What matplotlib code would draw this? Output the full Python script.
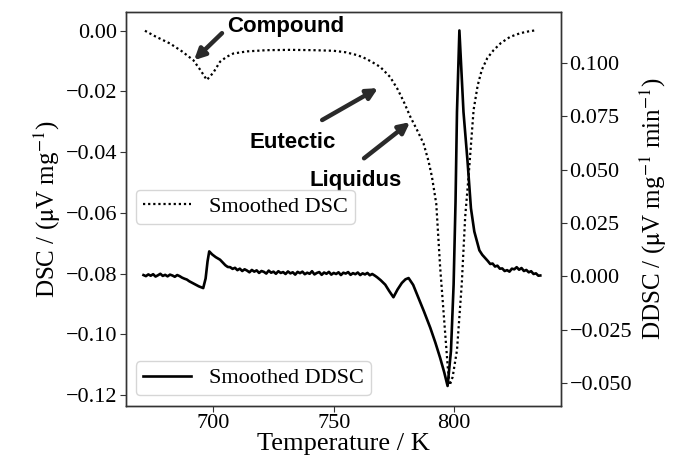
import numpy as np
import matplotlib.pyplot as plt

plt.rcParams['font.family'] = ['Liberation Serif', 'DejaVu Serif']
plt.rcParams['mathtext.fontset'] = 'stix'

# smoothed DSC signal (left axis)
dsc_T = [671.6, 676.0, 682.0, 687.0, 691.7, 694.5, 697.3, 700.0, 702.8, 705.5,
         708.3, 714.0, 722.2, 732.0, 741.5, 750.0, 755.0, 759.6, 762.3, 765.5,
         769.3, 773.4, 776.5, 779.0, 781.8, 784.5, 787.3, 789.4, 790.8, 792.6,
         794.2, 796.3, 797.4, 798.2, 799.4, 801.2, 803.2, 804.6, 806.0, 808.1,
         809.8, 811.5, 813.8, 816.4, 819.5, 823.3, 827.5, 831.0, 834.4]
dsc = [0.0000, -0.0019, -0.0042, -0.0068, -0.0097, -0.0128, -0.0162, -0.0138, -0.0102, -0.0086,
       -0.0075, -0.0068, -0.0064, -0.0063, -0.0064, -0.0066, -0.0071, -0.0080, -0.0088, -0.0101,
       -0.0119, -0.0152, -0.0192, -0.0232, -0.0283, -0.0325, -0.0371, -0.0430, -0.0481, -0.0570,
       -0.0778, -0.0997, -0.1110, -0.1167, -0.1140, -0.1052, -0.0832, -0.0613, -0.0481, -0.0261,
       -0.0180, -0.0129, -0.0090, -0.0064, -0.0040, -0.0020, -0.0008, -0.0002, 0.0002]

# smoothed DDSC signal (right axis)
ddsc_T = [671, 672, 673, 674, 675, 676, 677, 678, 679, 680,
          681, 682, 683, 684, 685, 686, 687, 688, 689, 690,
          692, 694, 695.8, 696.8, 697.6, 698.3, 699.5, 701, 702.8, 704,
          705, 706, 707, 708, 709, 710, 711, 712, 713, 714,
          715, 716, 717, 718, 719, 720, 721, 722, 723, 724,
          725, 726, 727, 728, 729, 730, 731, 732, 733, 734,
          735, 736, 737, 738, 739, 740, 741, 742, 743, 744,
          745, 746, 747, 748, 749, 750, 751, 752, 753, 754,
          755, 756, 757, 758, 759, 760, 761, 762, 763, 764,
          765, 766, 767,
          768, 769.5, 771.4, 773, 774.8, 776.5, 778.3, 779.8, 781.1, 783,
          785.2, 787.5, 790.1, 792.2, 794.2, 795.9, 797.3,
          798.7, 799.8, 800.6, 801.2, 802.2, 803.9, 805.6, 807.0, 807.4, 808.4,
          809.5, 810.5, 811.7, 812.9,
          814, 815, 816, 817, 818, 819, 820, 821, 822, 823,
          824, 825, 826, 827, 828, 829, 830, 831, 832, 833,
          834, 835, 835.8]
ddsc = [0.0006, 0.0001, 0.0009, 0.0003, 0.0010, -0.0001, 0.0005, 0.0012, 0.0002, 0.0007,
        0.0000, 0.0008, 0.0004, -0.0002, 0.0006, 0.0001, -0.0006, -0.0011, -0.0015, -0.0023,
        -0.0035, -0.0047, -0.0055, -0.0010, 0.0070, 0.0117, 0.0103, 0.0090, 0.0078, 0.0064,
        0.0052, 0.0044, 0.0043, 0.0035, 0.0040, 0.0029, 0.0036, 0.0025, 0.0033, 0.0027,
        0.0019, 0.0030, 0.0022, 0.0028, 0.0016, 0.0025, 0.0021, 0.0013, 0.0027, 0.0017,
        0.0022, 0.0012, 0.0024, 0.0016, 0.0020, 0.0011, 0.0023, 0.0014, 0.0019, 0.0008,
        0.0021, 0.0015, 0.0022, 0.0010, 0.0017, 0.0012, 0.0024, 0.0009, 0.0016, 0.0020,
        0.0007, 0.0018, 0.0012, 0.0021, 0.0008, 0.0016, 0.0011, 0.0019, 0.0006, 0.0017,
        0.0013, 0.0020, 0.0007, 0.0015, 0.0010, 0.0018, 0.0006, 0.0014, 0.0009, 0.0016,
        0.0005, 0.0011, 0.0004,
        -0.0004, -0.0018, -0.0039, -0.0068, -0.0098, -0.0062, -0.0031, -0.0014, -0.0008, -0.0040,
        -0.0101, -0.0165, -0.0241, -0.0310, -0.0382, -0.0450, -0.0514,
        -0.0350, -0.0039, 0.0350, 0.0771, 0.1153, 0.0771, 0.0537, 0.0319, 0.0288, 0.0210,
        0.0164, 0.0122, 0.0101, 0.0086,
        0.0072, 0.0058, 0.0060, 0.0046, 0.0050, 0.0036, 0.0037, 0.0025, 0.0029, 0.0022,
        0.0036, 0.0033, 0.0043, 0.0031, 0.0039, 0.0025, 0.0030, 0.0019, 0.0024, 0.0011,
        0.0014, 0.0003, 0.0004]

xticks = [700, 750, 800]
yticks_dsc = [0.00, -0.02, -0.04, -0.06, -0.08, -0.10, -0.12]
yticks_ddsc = [0.100, 0.075, 0.050, 0.025, 0.000, -0.025, -0.050]

fig = plt.figure(figsize=(6.77, 4.58), dpi=100)
ax1 = fig.add_axes([0.186, 0.114, 0.643, 0.86])
ax2 = ax1.twinx()

l1, = ax1.plot(dsc_T, dsc, color='black', lw=1.6, dashes=(1, 1.3), label='Smoothed DSC')
l2, = ax2.plot(ddsc_T, ddsc, ls='-', color='black', lw=1.9, label='Smoothed DDSC')

ax1.set_xlim(663.7, 844.5)
ax1.set_ylim(-0.1235, 0.0062)
ax2.set_ylim(-0.0607, 0.124)
ax1.set_xticks(xticks)
ax1.set_yticks(yticks_dsc)
ax1.set_yticklabels([('%.2f' % abs(v)) if v == 0 else ('%.2f' % v).replace('-', '\u2212')
                     for v in yticks_dsc])
ax2.set_yticks(yticks_ddsc)
ax2.set_yticklabels([('%.3f' % abs(v)) if v == 0 else ('%.3f' % v).replace('-', '\u2212')
                     for v in yticks_ddsc])
for a in (ax1, ax2):
    a.tick_params(labelsize=16, direction='out', length=4, width=0.8, color='#333333', pad=2)
    for s in a.spines.values():
        s.set_color('#333333')
        s.set_linewidth(1.0)

ax1.set_xlabel('Temperature / K', fontsize=19, labelpad=0)
ax1.set_ylabel(r'DSC / ($\mathrm{\mu}$V mg$^{-1}$)', fontsize=18, labelpad=2)
ax2.set_ylabel(r'DDSC / ($\mathrm{\mu}$V mg$^{-1}$ min$^{-1}$)', fontsize=18, labelpad=4)

leg1 = ax1.legend(handles=[l1], loc='upper left', bbox_to_anchor=(0.023, 0.548),
                  borderaxespad=0, fontsize=16, edgecolor='#cccccc', handlelength=2.2,
                  borderpad=0.3, handletextpad=0.8)
leg2 = ax2.legend(handles=[l2], loc='lower left', bbox_to_anchor=(0.023, 0.027),
                  borderaxespad=0, fontsize=16, edgecolor='#cccccc', handlelength=2.2,
                  borderpad=0.3, handletextpad=0.8)

# peak labels with arrows
arrow = dict(arrowstyle='-|>', color='#2a2a2a', lw=3.2, mutation_scale=16, shrinkA=0, shrinkB=0)
lab = dict(fontsize=16, fontweight='bold', family='Liberation Sans', va='center')
ax1.annotate('', xy=(692.0, -0.0097), xytext=(703.6, -0.0008), arrowprops=arrow)
ax1.text(705.8, 0.0015, 'Compound', ha='left', **lab)
ax1.annotate('', xy=(768.4, -0.0189), xytext=(745.2, -0.0294), arrowprops=arrow)
ax1.text(732.8, -0.0367, 'Eutectic', ha='center', **lab)
ax1.annotate('', xy=(781.7, -0.0301), xytext=(762.6, -0.0420), arrowprops=arrow)
ax1.text(758.9, -0.0492, 'Liquidus', ha='center', **lab)

fig.savefig('out.png', dpi=100)
